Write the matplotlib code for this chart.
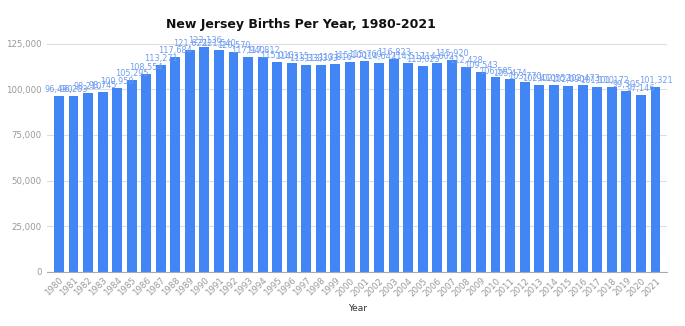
import numpy as np
import matplotlib.pyplot as plt
from matplotlib.ticker import FuncFormatter

years = list(range(1980, 2022))
births = [96490, 96203, 98210, 98745, 100950, 105295, 108554, 113271, 117684, 121622,
          123136, 121540, 120570, 117940, 117812, 115010, 114315, 113333, 113393, 113816,
          115100, 115760, 114642, 116823, 114512, 113025, 114602, 115920, 112428, 109543,
          106505, 105474, 103770, 102410, 102552, 102090, 102473, 101110, 101172, 99305,
          97146, 101321]

bar_color = '#4285f4'
label_color = '#6f9cf2'
grey = '#999999'

fig = plt.figure(figsize=(6.85, 3.26), dpi=100)
ax = fig.add_axes([0.069, 0.166, 0.905, 0.70])

x = np.arange(len(years))
ax.bar(x, births, width=0.68, color=bar_color, zorder=3)

for xi, v in zip(x, births):
    ax.text(xi, v + 1000, f'{v:,}', ha='center', va='bottom', fontsize=5.9,
            color=label_color, zorder=4)

ax.set_ylim(0, 125000)
ax.set_yticks([0, 25000, 50000, 75000, 100000, 125000])
ax.yaxis.set_major_formatter(FuncFormatter(lambda v, p: f'{int(v):,}'))
ax.set_xlim(-0.8, len(years) - 0.2)
ax.set_xticks(x)
ax.set_xticklabels([str(y) for y in years], rotation=45, ha='right',
                   rotation_mode='anchor', fontsize=6.2, color=grey)
ax.tick_params(axis='y', labelsize=6.2, labelcolor=grey, length=0, pad=4)
ax.tick_params(axis='x', length=0, pad=3)

ax.grid(axis='y', color='#dddddd', linewidth=0.8, zorder=0)
for s in ['top', 'right', 'left']:
    ax.spines[s].set_visible(False)
ax.spines['bottom'].set_color('#aaaaaa')
ax.spines['bottom'].set_zorder(5)

ax.set_xlabel('Year', fontsize=6.5, color='#333333')
ax.xaxis.set_label_coords(0.5, -0.14)
fig.suptitle('New Jersey Births Per Year, 1980-2021', x=0.44, y=0.945,
             fontsize=9, fontweight='bold', color='#111111')

fig.savefig('out.png', dpi=100)
